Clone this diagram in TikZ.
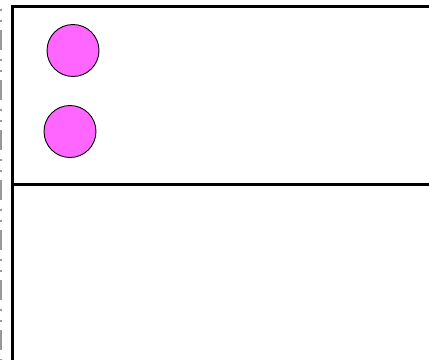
\documentclass[tikz,border=0pt]{standalone}
\begin{document}
\begin{tikzpicture}[x=1pt,y=-1pt,
  frameline/.style={line width=3pt,black},
  ball/.style={circle,draw=black,line width=0.9pt,fill=pinkfill,minimum size=52pt,inner sep=0pt},
  edgeline/.style={gray!80,line width=1.5pt,dash pattern=on 20pt off 9pt on 2pt off 9pt on 2pt off 8pt,dash phase=20pt}]
\definecolor{pinkfill}{HTML}{FF66FF}
\useasboundingbox (0,0) rectangle (429,360);
\fill[white] (0,0) rectangle (429,360);
\draw[edgeline] (0.75,0) -- (0.75,360);
\draw[frameline] (12.5,6.5) -- (429,6.5);
\draw[frameline] (12.5,5) -- (12.5,360);
\draw[frameline] (12.5,184.5) -- (429,184.5);
\node[ball] (c1) at (73,50.5) {};
\node[ball] (c2) at (70,131.5) {};
\end{tikzpicture}
\end{document}
